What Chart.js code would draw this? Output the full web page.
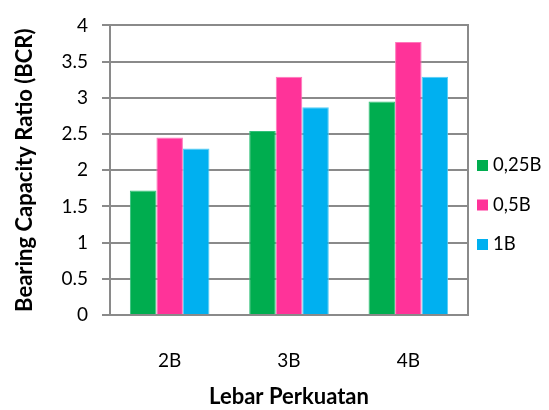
<!DOCTYPE html>
<html>
<head>
<meta charset="utf-8">
<script src="https://cdn.jsdelivr.net/npm/chart.js@4"></script>
<style>
html,body{margin:0;padding:0;background:#fff;}
#wrap{width:549px;height:410px;position:relative;}
</style>
</head>
<body>
<div id="wrap"><canvas id="c" width="549" height="410"></canvas></div>
<script>
// ---- data ----
const categories = ['2B', '3B', '4B'];
const seriesNames = ['0,25B', '0,5B', '1B'];
const series025B = [1.72, 2.54, 2.95];
const series05B = [2.45, 3.29, 3.77];
const series1B = [2.30, 2.87, 3.29];
const yTicks = [0, 0.5, 1, 1.5, 2, 2.5, 3, 3.5, 4];
const yTitle = 'Bearing Capacity Ratio (BCR)';
const xTitle = 'Lebar Perkuatan';

const colors = ['#00AD4F', '#FF3399', '#00B0F0'];
const borders = ['#33c07a', '#ff77bb', '#55cdf6'];
const FONT = 'Lato, "Open Sans", sans-serif';
const GRID = '#8a8a8a';

// custom right-side legend (drawn from dataset labels/colors)
const sideLegend = {
  id: 'sideLegend',
  afterDraw(chart) {
    const ctx = chart.ctx;
    const ds = chart.data.datasets;
    const x = chart.chartArea.right + 9;
    const step = 39.5;
    const cy = chart.height / 2;
    const y0 = cy - step * (ds.length - 1) / 2;
    ctx.save();
    ctx.font = '18.5px ' + FONT;
    ctx.textBaseline = 'middle';
    ctx.textAlign = 'left';
    ds.forEach((d, i) => {
      const y = y0 + i * step;
      ctx.fillStyle = d.backgroundColor;
      ctx.fillRect(x, y - 5.5, 11, 11);
      ctx.fillStyle = '#000';
      ctx.fillText(d.label, x + 16, y);
    });
    ctx.restore();
  }
};

new Chart(document.getElementById('c'), {
  type: 'bar',
  data: {
    labels: categories,
    datasets: [
      { label: seriesNames[0], data: series025B, backgroundColor: colors[0], borderColor: borders[0], borderWidth: 1 },
      { label: seriesNames[1], data: series05B, backgroundColor: colors[1], borderColor: borders[1], borderWidth: 1 },
      { label: seriesNames[2], data: series1B, backgroundColor: colors[2], borderColor: borders[2], borderWidth: 1 }
    ]
  },
  options: {
    responsive: false,
    animation: false,
    devicePixelRatio: 1,
    layout: { padding: { left: 10, top: 22, right: 81, bottom: 0 } },
    datasets: { bar: { categoryPercentage: 0.667, barPercentage: 1.0 } },
    plugins: {
      legend: { display: false },
      tooltip: { enabled: false }
    },
    scales: {
      x: {
        grid: { display: false },
        border: { display: true, color: GRID, width: 2 },
        ticks: { color: '#000', font: { family: FONT, size: 19 }, padding: 26 },
        title: { display: true, text: xTitle, color: '#000', font: { family: FONT, size: 22, weight: 'bold' }, padding: { top: 0, bottom: 0 } },
        afterFit(s) { s.height = 95; }
      },
      y: {
        min: 0, max: 4,
        afterBuildTicks(s) { s.ticks = yTicks.map(v => ({ value: v })); },
        grid: { color: GRID, lineWidth: 2, tickLength: 8, tickColor: GRID, tickWidth: 2 },
        border: { display: true, color: GRID, width: 2 },
        ticks: { color: '#000', font: { family: FONT, size: 19 }, padding: 14, callback: v => String(v) },
        title: { display: true, text: yTitle, color: '#000', font: { family: FONT, size: 22, weight: 'bold' }, padding: { top: 2, bottom: 0 } },
        afterFit(s) { s.width = 100; }
      },
      y2: {
        position: 'right',
        display: true,
        grid: { display: false, drawTicks: false },
        border: { display: true, color: GRID, width: 2 },
        ticks: { display: false },
        afterFit(s) { s.width = 0; }
      }
    }
  },
  plugins: [sideLegend]
});
</script>
</body>
</html>
